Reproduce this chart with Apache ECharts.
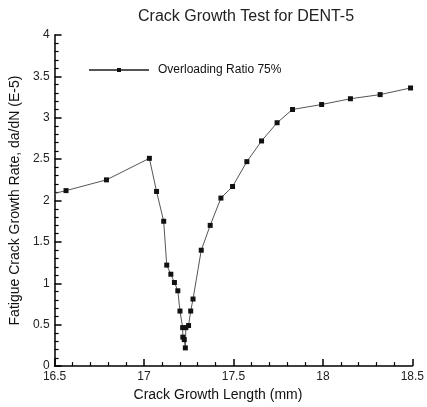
<!DOCTYPE html>
<html>
<head>
<meta charset="utf-8">
<script src="https://cdn.jsdelivr.net/npm/echarts@6/dist/echarts.min.js"></script>
<style>
  html, body { margin: 0; padding: 0; background: #fff; }
  #chart { width: 427px; height: 407px; }
</style>
</head>
<body>
<div id="chart"></div>
<script>
// crack length (mm) and growth rate da/dN (E-5)
const crackLength = [16.45, 16.564, 16.79, 17.03, 17.07, 17.11, 17.127, 17.15, 17.17, 17.189, 17.201, 17.216, 17.217, 17.225, 17.231, 17.234, 17.249, 17.261, 17.274, 17.32, 17.37, 17.43, 17.495, 17.575, 17.657, 17.744, 17.83, 17.993, 18.154, 18.32, 18.49]
const growthRate = [2.06, 2.12, 2.25, 2.51, 2.11, 1.75, 1.22, 1.11, 1.01, 0.91, 0.665, 0.465, 0.35, 0.32, 0.22, 0.465, 0.49, 0.665, 0.81, 1.40, 1.70, 2.03, 2.17, 2.47, 2.72, 2.94, 3.10, 3.16, 3.23, 3.28, 3.36]
const seriesName = 'Overloading Ratio 75%'

const chart = echarts.init(document.getElementById('chart'))
const font = 'Liberation Sans, Arial, sans-serif'

const axisCommon = {
  axisLine: { show: true, lineStyle: { color: '#000', width: 1.5 } },
  axisTick: { show: true, inside: true, length: 7, lineStyle: { color: '#000', width: 1.5 } },
  minorTick: { show: true, splitNumber: 5, length: 4, lineStyle: { color: '#000', width: 1.2 } },
  splitLine: { show: false },
  axisLabel: { color: '#222', fontSize: 12, fontFamily: font, margin: 5 },
  nameTextStyle: { color: '#111', fontSize: 14, fontFamily: font }
}

chart.setOption({
  animation: false,
  title: {
    text: 'Crack Growth Test for DENT-5',
    left: 133,
    top: 4,
    textStyle: { fontSize: 16, fontWeight: 'normal', color: '#222', fontFamily: font }
  },
  legend: {
    left: 83,
    top: 59,
    itemWidth: 60,
    itemHeight: 5,
    data: [seriesName],
    textStyle: { fontSize: 12, color: '#111', fontFamily: font, padding: [0, 0, 0, 4] }
  },
  grid: { left: 50, right: 12, top: 35, bottom: 35, containLabel: false },
  xAxis: Object.assign({}, axisCommon, {
    type: 'value',
    min: 16.5,
    max: 18.5,
    interval: 0.5,
    name: 'Crack Growth Length (mm)',
    nameLocation: 'middle',
    nameGap: 18,
    nameTextStyle: Object.assign({}, axisCommon.nameTextStyle, { padding: [0, 31, 0, 0] })
  }),
  yAxis: Object.assign({}, axisCommon, {
    type: 'value',
    min: 0,
    max: 4,
    interval: 0.5,
    name: 'Fatigue Crack Growth Rate, da/dN (E-5)',
    nameLocation: 'middle',
    nameGap: 24
  }),
  series: [{
    name: seriesName,
    type: 'line',
    clip: true,
    symbol: 'rect',
    symbolSize: 5,
    itemStyle: { color: '#111' },
    lineStyle: { color: '#555', width: 1 },
    data: crackLength.map((x, i) => [x, growthRate[i]])
  }]
})
</script>
</body>
</html>
